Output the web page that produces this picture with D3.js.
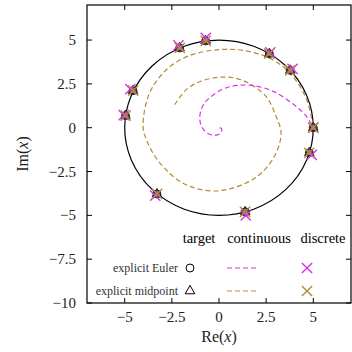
<!DOCTYPE html>
<html><head><meta charset="utf-8">
<script src="https://cdn.jsdelivr.net/npm/d3@7"></script>
<style>html,body{margin:0;padding:0;background:#fff}svg{display:block}</style>
</head><body>
<svg id="c" width="352" height="352"></svg>
<script>
// ---- data ----
const xTicks = [-5, -2.5, 0, 2.5, 5];
const xTickLabels = ["\u22125", "\u22122.5", "0", "2.5", "5"];
const yTicks = [-10, -7.5, -5, -2.5, 0, 2.5, 5];
const yTickLabels = ["\u221210", "\u22127.5", "\u22125", "\u22122.5", "0", "2.5", "5"];
const targetRadius = 5;
// target sample points (same for both methods)
const targetRe = [5.0, 4.79, 1.39, -3.29, -4.96, -4.56, -2.09, -0.71, 2.67, 3.78];
const targetIm = [0.0, -1.43, -4.80, -3.78, 0.69, 2.11, 4.55, 4.95, 4.22, 3.27];
// discrete explicit Euler
const eulerDiscRe = [5.0, 4.92, 1.42, -3.38, -5.05, -4.70, -2.15, -0.70, 2.72, 3.90];
const eulerDiscIm = [0.0, -1.55, -5.00, -3.88, 0.72, 2.20, 4.70, 5.12, 4.30, 3.36];
// discrete explicit midpoint
const midDiscRe = [5.0, 4.78, 1.38, -3.28, -4.95, -4.55, -2.08, -0.70, 2.66, 3.77];
const midDiscIm = [0.0, -1.43, -4.80, -3.78, 0.69, 2.11, 4.55, 4.95, 4.22, 3.27];
// continuous explicit Euler (magenta dashed)
const eulerContRe = [0.04, 0.12, 0.15, 0.12, 0.03, -0.09, -0.245, -0.42, -0.62, -0.80, -0.95, -1.02, -0.98, -0.80, -0.45, 0.155, 0.94, 1.90, 2.96, 4.05, 4.60, 5.0];
const eulerContIm = [0.0, -0.04, -0.15, -0.28, -0.36, -0.41, -0.435, -0.40, -0.31, -0.13, 0.135, 0.48, 0.90, 1.36, 1.75, 2.18, 2.41, 2.39, 2.03, 1.25, 0.70, 0.0];
// continuous explicit midpoint (brown dashed)
const midContRe = [-2.35, -1.75, -0.96, 0.20, 1.26, 2.48, 3.03, 3.29, 3.04, 2.33, 1.41, -0.25, -1.91, -3.24, -3.85, -4.03, -3.69, -2.78, -1.58, 0.0, 1.27, 2.68, 3.74, 4.62, 5.0];
const midContIm = [1.31, 2.16, 2.65, 2.89, 2.70, 1.80, 0.64, -0.29, -1.42, -2.50, -3.17, -3.61, -3.17, -1.87, -0.68, 0.07, 1.96, 3.32, 4.11, 4.45, 4.41, 3.97, 3.14, 1.68, 0.0];
const legendCols = ["target", "continuous", "discrete"];
const legendRows = ["explicit Euler", "explicit midpoint"];

// ---- drawing ----
const MAG = "#dc2ef0", BRN = "#b38b35";
const FONT = "'Liberation Serif', 'Times New Roman', serif";
const svg = d3.select("#c");
const L = 87, R = 351, T = 5, B = 303;
const x = d3.scaleLinear().domain([-7, 7]).range([L, R]);
const y = d3.scaleLinear().domain([-10, 7]).range([B, T]);

// target circle
svg.append("ellipse")
  .attr("cx", x(0)).attr("cy", y(0))
  .attr("rx", x(targetRadius) - x(0)).attr("ry", y(0) - y(targetRadius))
  .attr("fill", "none").attr("stroke", "#000").attr("stroke-width", 1.2);

const line = d3.line().x(d => x(d[0])).y(d => y(d[1])).curve(d3.curveCatmullRom);
const zip = (a, b) => a.map((v, i) => [v, b[i]]);

svg.append("path").attr("d", line(zip(midContRe, midContIm)))
  .attr("fill", "none").attr("stroke", BRN).attr("stroke-width", 1.2).attr("stroke-dasharray", "5,3");
svg.append("path").attr("d", line(zip(eulerContRe, eulerContIm)))
  .attr("fill", "none").attr("stroke", MAG).attr("stroke-width", 1.2).attr("stroke-dasharray", "5,3");

const circ = d3.symbol().type(d3.symbolCircle).size(50);
const tri = d3.symbol().type(d3.symbolTriangle).size(40);
const cross = d3.symbol().type(d3.symbolX).size(70);

function markers(re, im, sym, color, sw, fill) {
  svg.append("g").selectAll("path").data(zip(re, im)).join("path")
    .attr("transform", d => `translate(${x(d[0])},${y(d[1])})`)
    .attr("d", sym).attr("fill", fill || "none").attr("stroke", color).attr("stroke-width", sw);
}
markers(targetRe, targetIm, circ, "#222", 1, "#777");
markers(targetRe, targetIm, tri, "#222", 1);
markers(eulerDiscRe, eulerDiscIm, cross, MAG, 1.4);
markers(midDiscRe, midDiscIm, cross, BRN, 1.4);

// frame
svg.append("rect").attr("x", L).attr("y", T).attr("width", R - L).attr("height", B - T)
  .attr("fill", "none").attr("stroke", "#000").attr("stroke-width", 1.2);

// ticks
const tl = 5;
const tg = svg.append("g").attr("stroke", "#000").attr("stroke-width", 1);
xTicks.forEach(v => {
  tg.append("line").attr("x1", x(v)).attr("x2", x(v)).attr("y1", B).attr("y2", B - tl);
  tg.append("line").attr("x1", x(v)).attr("x2", x(v)).attr("y1", T).attr("y2", T + tl);
});
yTicks.forEach(v => {
  tg.append("line").attr("y1", y(v)).attr("y2", y(v)).attr("x1", L).attr("x2", L + tl);
  tg.append("line").attr("y1", y(v)).attr("y2", y(v)).attr("x1", R).attr("x2", R - tl);
});
xTicks.forEach((v, i) => {
  svg.append("text").attr("x", x(v)).attr("y", 322).attr("text-anchor", "middle")
    .attr("font-family", FONT).attr("font-size", 15).attr("fill", "#222").text(xTickLabels[i]);
});
yTicks.forEach((v, i) => {
  svg.append("text").attr("x", 76).attr("y", y(v) + 5).attr("text-anchor", "end")
    .attr("font-family", FONT).attr("font-size", 15).attr("fill", "#222").text(yTickLabels[i]);
});

// axis labels
const xl = svg.append("text").attr("x", x(0)).attr("y", 342).attr("text-anchor", "middle")
  .attr("font-family", FONT).attr("font-size", 16).attr("fill", "#222");
xl.append("tspan").text("Re(");
xl.append("tspan").attr("font-style", "italic").text("x");
xl.append("tspan").text(")");
const yl = svg.append("text").attr("transform", `translate(28,${(T + B) / 2}) rotate(-90)`)
  .attr("text-anchor", "middle").attr("font-family", FONT).attr("font-size", 16).attr("fill", "#222");
yl.append("tspan").text("Im(");
yl.append("tspan").attr("font-style", "italic").text("x");
yl.append("tspan").text(")");

// legend
const colX = [199, 259, 323];
legendCols.forEach((c, i) => {
  svg.append("text").attr("x", colX[i]).attr("y", 243).attr("text-anchor", "middle")
    .attr("font-family", FONT).attr("font-size", 14.5).attr("fill", "#000").text(c);
});
const rowY = [268, 291];
legendRows.forEach((r, i) => {
  svg.append("text").attr("x", 178).attr("y", rowY[i] + 4).attr("text-anchor", "end")
    .attr("font-family", FONT).attr("font-size", 12).attr("fill", "#333").text(r);
});
svg.append("path").attr("transform", `translate(190,${rowY[0]})`).attr("d", circ)
  .attr("fill", "none").attr("stroke", "#000").attr("stroke-width", 1);
svg.append("path").attr("transform", `translate(190,${rowY[1]})`).attr("d", tri)
  .attr("fill", "none").attr("stroke", "#000").attr("stroke-width", 1);
[[MAG, rowY[0]], [BRN, rowY[1]]].forEach(([col, yy]) => {
  svg.append("line").attr("x1", 227).attr("x2", 258).attr("y1", yy).attr("y2", yy)
    .attr("stroke", col).attr("stroke-width", 1.2).attr("stroke-dasharray", "5,3");
  svg.append("path").attr("transform", `translate(307,${yy})`).attr("d", cross)
    .attr("fill", "none").attr("stroke", col).attr("stroke-width", 1.4);
});
</script>
</body></html>
